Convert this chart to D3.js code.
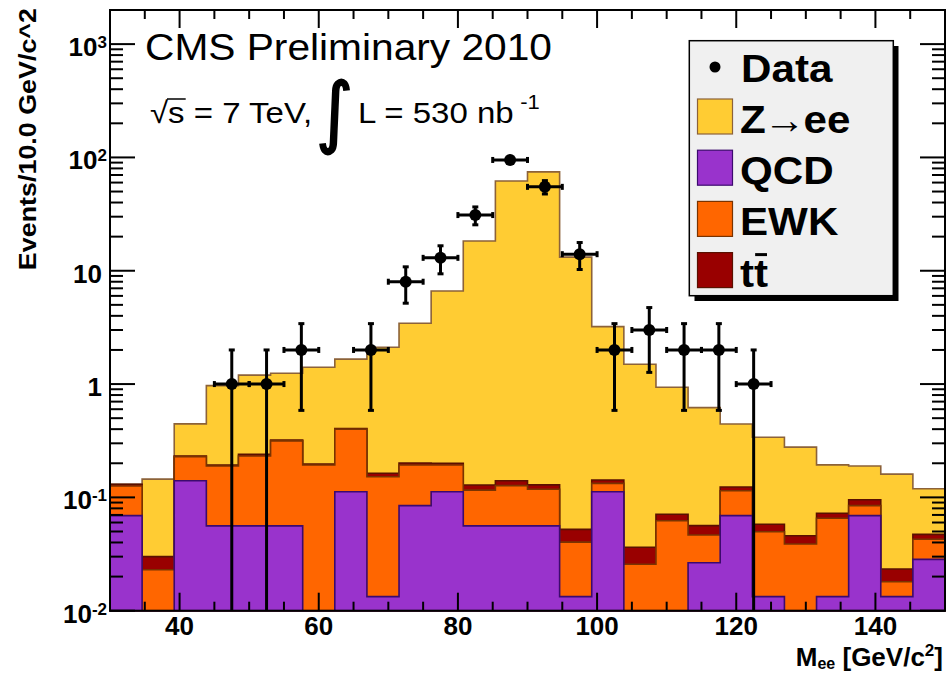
<!DOCTYPE html>
<html>
<head>
<meta charset="utf-8">
<script src="https://cdn.jsdelivr.net/npm/d3@7"></script>
<style>
html,body{margin:0;padding:0;background:#fff;}
svg{display:block;}
</style>
</head>
<body>
<div id="chart"></div>
<script>
(function(){
'use strict';

/* ---- values ---- */
// MC histograms: 26 equal bins between 30 and 150 GeV
const mcRange=[30,150];
const qcd  =[0.069,0,0.140,0.056,0.056,0.056,0,0.112,0.0133,0.0845,0.112,0.056,0.056,0.056,0.0133,0.112,0,0,0.0265,0.069,0.0133,0,0.0133,0.069,0.0133,0.0284];
const ewk  =[0.057,0.023,0.089,0.133,0.176,0.259,0.193,0.288,0.139,0.1085,0.081,0.060,0.071,0.062,0.027,0.021,0.0257,0.0622,0.0201,0.0456,0.0365,0.0388,0.0521,0.0155,0.0047,0.0143];
const ttbar=[0.0045,0.007,0.003,0.004,0.008,0.005,0.004,0.005,0.011,0.008,0.007,0.0127,0.013,0.011,0.0119,0.0094,0.0106,0.0087,0.0097,0.009,0.0081,0.0071,0.007,0.0109,0.0053,0.0045];
const zee  =[0,0.115,0.213,0.775,0.96,0.925,1.21,1.255,1.947,3.24,6.43,18.17,61.86,74.37,13.15,3.07,1.46,0.866,0.563,0.321,0.281,0.232,0.121,0.094,0.137,0.072];

// data: 5 GeV bins, only non-empty ones
const dataMass  =[47.5,52.5,57.5,67.5,72.5,77.5,82.5,87.5,92.5,97.5,102.5,107.5,112.5,117.5,122.5];
const dataCounts=[1,1,2,2,8,13,31,95,55,14,2,3,2,2,1];
const dataHalfBin=2.5;

const xTickLabels=[40,60,80,100,120,140];
const yTickLabels=[[0.01,'10','-2'],[0.1,'10','-1'],[1,'1',''],[10,'10',''],[100,'10','2'],[1000,'10','3']];

const layers=[
  {key:'qcd',name:'QCD',fill:'#9933cc',stroke:'#3c0a6e'},
  {key:'ewk',name:'EWK',fill:'#ff6600',stroke:'#7a3300'},
  {key:'tt', name:'tt',fill:'#990000',stroke:'#5a1000'},
  {key:'zee',name:'Z→ee',fill:'#ffcc33',stroke:'#8c6239'}
];

/* ---- layout ---- */
const W=946,H=674;
const FONT='"Liberation Sans",Arial,Helvetica,sans-serif';
const frame={left:110,right:945,top:10,bottom:610.7};

const svg=d3.select('#chart').append('svg').attr('width',W).attr('height',H);
const x=d3.scaleLinear().domain(mcRange).range([frame.left,frame.right]);
const y=d3.scaleLog().domain([0.01,2000]).range([frame.bottom,frame.top]);
const yMin=y.domain()[0];
const yc=v=>y(Math.max(v,yMin));

// stacked histograms
const nBins=qcd.length;
const bw=(mcRange[1]-mcRange[0])/nBins;
const rows=qcd.map((d,i)=>({lo:mcRange[0]+i*bw,qcd:qcd[i],ewk:ewk[i],tt:ttbar[i],zee:zee[i]}));
const stacked=d3.stack().keys(layers.map(l=>l.key))(rows);

const area=d3.area()
  .x(d=>x(d.lo))
  .y0(frame.bottom)
  .y1(d=>yc(d.top))
  .curve(d3.curveStepAfter);

const plot=svg.append('g');
// draw largest cumulative first (ROOT THStack style)
stacked.slice().reverse().forEach(s=>{
  const l=layers.find(k=>k.key===s.key);
  const pts=s.map((d,i)=>({lo:rows[i].lo,top:d[1]}));
  pts.push({lo:mcRange[1],top:pts[pts.length-1].top});
  plot.append('path').datum(pts).attr('d',area)
    .attr('fill',l.fill).attr('stroke',l.stroke).attr('stroke-width',1.6);
});

// data points with sqrt(N) errors
const R=6;
const dg=svg.append('g').attr('stroke','#000').attr('stroke-width',3);
dataMass.forEach((m,i)=>{
  const n=dataCounts[i],e=Math.sqrt(n);
  const cx=x(m),cy=y(n);
  const yHi=y(n+e),yLo=yc(n-e);
  const xl=x(m-dataHalfBin),xr=x(m+dataHalfBin);
  dg.append('line').attr('x1',xl).attr('x2',xr).attr('y1',cy).attr('y2',cy);
  dg.append('line').attr('x1',xl).attr('x2',xl).attr('y1',cy-3).attr('y2',cy+3);
  dg.append('line').attr('x1',xr).attr('x2',xr).attr('y1',cy-3).attr('y2',cy+3);
  if(cy-yHi>R){
    dg.append('line').attr('x1',cx).attr('x2',cx).attr('y1',cy).attr('y2',yHi);
    dg.append('line').attr('x1',cx-3).attr('x2',cx+3).attr('y1',yHi).attr('y2',yHi);
  }
  if(yLo-cy>R){
    dg.append('line').attr('x1',cx).attr('x2',cx).attr('y1',cy).attr('y2',yLo);
    if(n-e>yMin)dg.append('line').attr('x1',cx-3).attr('x2',cx+3).attr('y1',yLo).attr('y2',yLo);
  }
  dg.append('circle').attr('cx',cx).attr('cy',cy).attr('r',R).attr('fill','#000').attr('stroke','none');
});

// frame + ticks on all four sides
const ax=svg.append('g').attr('stroke','#000').attr('stroke-width',2);
x.ticks(24).forEach(v=>{
  if(v<=mcRange[0]||v>=mcRange[1])return;
  const len=v%20===0?18:9;
  ax.append('line').attr('x1',x(v)).attr('x2',x(v)).attr('y1',frame.bottom).attr('y2',frame.bottom-len);
  ax.append('line').attr('x1',x(v)).attr('x2',x(v)).attr('y1',frame.top).attr('y2',frame.top+len);
});
y.ticks().forEach(v=>{
  if(v>=2000)return;
  const major=Math.abs(Math.log10(v)-Math.round(Math.log10(v)))<1e-9;
  const len=major?25:13;
  ax.append('line').attr('x1',frame.left).attr('x2',frame.left+len).attr('y1',y(v)).attr('y2',y(v));
  ax.append('line').attr('x1',frame.right).attr('x2',frame.right-len).attr('y1',y(v)).attr('y2',y(v));
});
ax.append('rect').attr('x',frame.left).attr('y',frame.top)
  .attr('width',frame.right-frame.left).attr('height',frame.bottom-frame.top).attr('fill','none');

// tick labels
const tl=svg.append('g').style('font-family',FONT).style('font-weight','bold').attr('fill','#000');
xTickLabels.forEach(v=>{
  tl.append('text').attr('x',x(v)).attr('y',635).attr('text-anchor','middle')
    .style('font-size','26px').text(v);
});
yTickLabels.forEach(([v,base,sup])=>{
  const t=tl.append('text').attr('x',sup?107:102).attr('y',y(v)+12).attr('text-anchor','end')
    .style('font-size','26px');
  t.append('tspan').text(base);
  if(sup)t.append('tspan').attr('dy',-8).style('font-size','17px').text(sup);
});

// axis titles
const xt=tl.append('text').attr('x',943).attr('y',666).attr('text-anchor','end').style('font-size','26px');
xt.append('tspan').text('M');
xt.append('tspan').attr('dy',3).style('font-size','16px').text('ee');
xt.append('tspan').attr('dy',-3).text(' [GeV/c');
xt.append('tspan').attr('dy',-10).style('font-size','17px').text('2');
xt.append('tspan').attr('dy',10).text(']');

tl.append('text').attr('transform','translate(36,8) rotate(-90) scale(1.12,1)')
  .attr('text-anchor','end').style('font-size','24px').text('Events/10.0 GeV/c^2');

// CMS header
const hd=svg.append('g').style('font-family',FONT).attr('fill','#000');
hd.append('text').attr('transform','translate(145,60) scale(1.1,1)')
  .style('font-size','37px').text('CMS Preliminary 2010');
const l1=hd.append('text').attr('transform','translate(150,123) scale(1.1,1)')
  .style('font-size','30px').text('√s = 7 TeV,');
const sNode=l1.node();
const s0=sNode.getStartPositionOfChar(1).x,s1=sNode.getEndPositionOfChar(1).x;
hd.append('line').attr('transform','translate(150,123) scale(1.1,1)')
  .attr('x1',s0-1).attr('x2',s1+1).attr('y1',-24).attr('y2',-24)
  .attr('stroke','#000').attr('stroke-width',1.5);
hd.append('text').attr('transform','translate(316,138) scale(1.15,1.25)')
  .style('font-family','"DejaVu Sans",sans-serif').style('font-size','62px')
  .attr('stroke','#000').attr('stroke-width',1.4).text('∫');
const l2=hd.append('text').attr('transform','translate(358,123) scale(1.1,1)').style('font-size','30px');
l2.append('tspan').text('L = 530 nb');
l2.append('tspan').attr('dx',6).attr('dy',-14).style('font-size','20px').text('-1');

// legend
const lg=svg.append('g').style('font-family',FONT).style('font-weight','bold');
lg.append('rect').attr('x',694.5).attr('y',46).attr('width',204).attr('height',255).attr('fill','#000');
lg.append('rect').attr('x',689.3).attr('y',40.7).attr('width',204).attr('height',255)
  .attr('fill','#f0f0f0').attr('stroke','#000').attr('stroke-width',1.5);
lg.append('circle').attr('cx',715).attr('cy',67).attr('r',5.5).attr('fill','#000');
lg.append('text').attr('transform','translate(741,82) scale(1.11,1)').style('font-size','38px').text('Data');
const legOrder=['zee','qcd','ewk','tt'];
legOrder.forEach((k,i)=>{
  const l=layers.find(d=>d.key===k);
  const top=99+i*51.2;
  lg.append('rect').attr('x',697.5).attr('y',top).attr('width',35).attr('height',35)
    .attr('fill',l.fill).attr('stroke',l.stroke).attr('stroke-width',1.2);
  const t=lg.append('text').attr('transform',`translate(740,${top+34}) scale(1.11,1)`).style('font-size','38px');
  if(k==='zee'){
    t.append('tspan').text('Z');
    t.append('tspan').attr('dx',-2).style('font-weight','normal').text('→');
    t.append('tspan').attr('dx',-2).text('ee');
  }else if(k==='tt'){
    t.text('tt');
    const n=t.node();
    const a=n.getStartPositionOfChar(1).x,b=n.getEndPositionOfChar(1).x;
    lg.append('line').attr('transform',`translate(740,${top+34}) scale(1.11,1)`)
      .attr('x1',a+1).attr('x2',b-1).attr('y1',-32).attr('y2',-32)
      .attr('stroke','#000').attr('stroke-width',3);
  }else t.text(l.name);
});

})();
</script>
</body>
</html>
